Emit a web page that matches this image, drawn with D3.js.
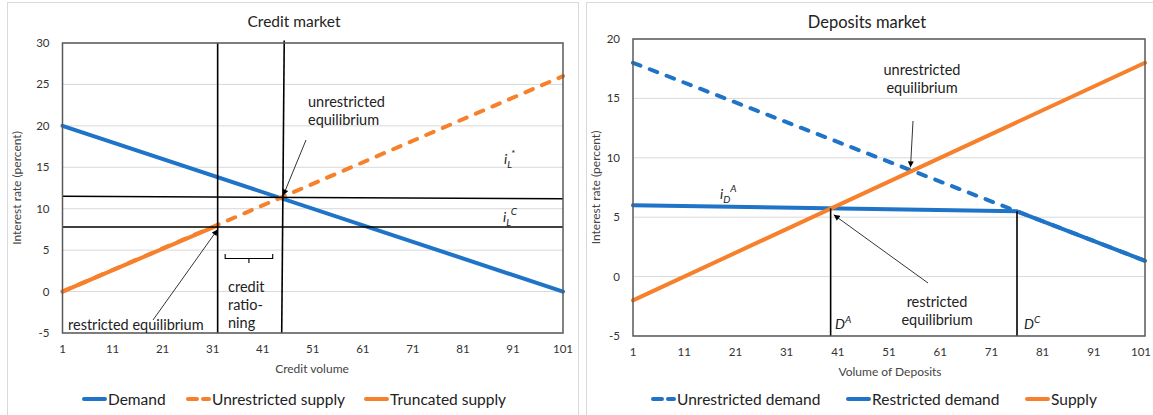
<!DOCTYPE html>
<html>
<head>
<meta charset="utf-8">
<script src="https://cdn.jsdelivr.net/npm/d3@7"></script>
<style>
  body { margin: 0; background: #fff; }
  svg { font-family: Lato, "Liberation Sans", sans-serif; }
</style>
</head>
<body>
<svg id="chart" width="1153" height="415"></svg>
<script>
// ---- credit market (left) ----
const creditTicks = [1, 11, 21, 31, 41, 51, 61, 71, 81, 91, 101]
const creditRateTicks = [-5, 0, 5, 10, 15, 20, 25, 30]
const creditVolume = [1, 101]
const creditDemand = [20, 0]
const creditUnrestrictedSupply = [0, 26]
const truncatedVolume = [1, 32]
const truncatedSupply = [0, 8]
// drawn reference lines, in data units [volume, rate]
const iLStarLine = [[1, 11.5], [101, 11.2]]
const iLCLine = [[1, 7.8], [101, 7.8]]
const creditRestrictedV = [[32, 30], [32, -5]]
const creditUnrestrictedV = [[45.3, 30.3], [44.8, -5]]

// ---- deposits market (right) ----
const depositTicks = [1, 11, 21, 31, 41, 51, 61, 71, 81, 91, 101]
const depositRateTicks = [-5, 0, 5, 10, 15, 20]
const depositVolume = [1, 101]
const unrestrictedDemand = [18, 1.33]
const restrictedVolume = [1, 76, 101]
const restrictedDemand = [6, 5.5, 1.33]
const depositSupply = [-2, 18]
const dALine = [[39.6, 5.74], [39.6, -5]]
const dCLine = [[76, 5.5], [76, -5]]

const blue = '#1f74c8'
const orange = '#f6802b'

const svg = d3.select('#chart')

// arrow head
svg.append('defs').append('marker')
    .attr('id', 'arrow')
    .attr('viewBox', '0 0 10 10')
    .attr('refX', 10).attr('refY', 5)
    .attr('markerWidth', 7).attr('markerHeight', 6)
    .attr('markerUnits', 'userSpaceOnUse')
    .attr('orient', 'auto')
    .append('path')
    .attr('d', 'M0,0 L10,5 L0,10 z')
    .attr('fill', '#000')

// panel frames
svg.append('rect').attr('x', 7.5).attr('y', 2.5).attr('width', 571).attr('height', 420)
    .attr('fill', 'none').attr('stroke', '#d9d9d9')
svg.append('rect').attr('x', 586.5).attr('y', 2.5).attr('width', 580).attr('height', 420)
    .attr('fill', 'none').attr('stroke', '#d9d9d9')

function panel(p) {
    let x = d3.scaleLinear().domain([1, 101]).range(p.xRange)
    let y = d3.scaleLinear().domain(d3.extent(p.yTicks)).range(p.yRange)
    let g = svg.append('g')

    // gridlines
    g.selectAll('.grid')
        .data(p.yTicks)
        .join('line')
        .attr('x1', p.xRange[0]).attr('x2', p.xRange[1])
        .attr('y1', d => y(d)).attr('y2', d => y(d))
        .attr('stroke', '#d9d9d9').attr('stroke-width', 1)

    // y tick labels
    g.selectAll('.ylab')
        .data(p.yTicks)
        .join('text')
        .attr('x', p.xRange[0] - 13)
        .attr('y', d => y(d) + 4)
        .attr('text-anchor', 'end')
        .style('font-size', '11.5px')
        .style('fill', '#333')
        .text(d => d)

    // x tick labels (last one kept inside the picture)
    g.selectAll('.xlab')
        .data(p.xTicks)
        .join('text')
        .attr('x', d => Math.min(x(d), p.maxLabelX))
        .attr('y', p.yRange[0] + 20)
        .attr('text-anchor', 'middle')
        .style('font-size', '11.5px')
        .style('fill', '#333')
        .text(d => d)

    // titles
    g.append('text')
        .attr('x', p.titleX).attr('y', p.titleY)
        .attr('text-anchor', 'middle')
        .style('font-size', p.titleSize)
        .style('fill', '#222')
        .text(p.title)
    g.append('text')
        .attr('x', p.xTitleX).attr('y', p.yRange[0] + 40)
        .attr('text-anchor', 'middle')
        .style('font-size', '12px')
        .style('fill', '#444')
        .text(p.xTitle)
    g.append('text')
        .attr('transform', `translate(${p.yTitleX},${(p.yRange[0] + p.yRange[1]) / 2}) rotate(-90)`)
        .attr('text-anchor', 'middle')
        .style('font-size', '12px')
        .style('fill', '#444')
        .text('Interest rate (percent)')

    // series
    let line = d3.line().x(d => x(d[0])).y(d => y(d[1]))
    p.series.forEach(s => {
        g.append('path')
            .datum(d3.zip(s.x, s.y))
            .attr('d', line)
            .attr('fill', 'none')
            .attr('stroke', s.colour)
            .attr('stroke-width', 4)
            .attr('stroke-linecap', 'round')
            .attr('stroke-linejoin', 'round')
            .attr('stroke-dasharray', s.dashed ? '8,10' : null)
    })

    // reference lines
    p.refLines.forEach(r => {
        g.append('path')
            .datum(r)
            .attr('d', line)
            .attr('stroke', '#000')
            .attr('stroke-width', 1.6)
    })

    // plot border
    g.append('rect')
        .attr('x', p.xRange[0]).attr('y', p.yRange[1])
        .attr('width', p.xRange[1] - p.xRange[0])
        .attr('height', p.yRange[0] - p.yRange[1])
        .attr('fill', 'none')
        .attr('stroke', '#595959')
        .attr('stroke-width', 1.5)

    // legend
    let lg = g.selectAll('.legend')
        .data(p.series.filter(s => s.legendX))
        .join('g')
        .attr('transform', s => `translate(${s.legendX},399)`)
    lg.append('line')
        .attr('x1', 2).attr('x2', 23)
        .attr('stroke', s => s.colour)
        .attr('stroke-width', 4)
        .attr('stroke-linecap', 'round')
        .attr('stroke-dasharray', s => s.dashed ? '9,6' : null)
    lg.append('text')
        .attr('x', 26).attr('y', 5.5)
        .style('font-size', '15.5px')
        .style('fill', '#222')
        .text(s => s.name)

    return { x, y, g }
}

const left = panel({
    xRange: [62.5, 563], yRange: [333, 43], maxLabelX: 1000,
    xTicks: creditTicks, yTicks: creditRateTicks,
    title: 'Credit market', titleX: 294, titleY: 27, titleSize: '15.5px',
    xTitle: 'Credit volume', xTitleX: 312, yTitleX: 21,
    series: [
        { name: 'Demand', x: creditVolume, y: creditDemand, colour: blue, legendX: 82 },
        { name: 'Unrestricted supply', x: creditVolume, y: creditUnrestrictedSupply, colour: orange, dashed: true, legendX: 186 },
        { name: 'Truncated supply', x: truncatedVolume, y: truncatedSupply, colour: orange, legendX: 364 }
    ],
    refLines: [iLStarLine, iLCLine, creditRestrictedV, creditUnrestrictedV]
})

const right = panel({
    xRange: [633, 1145], yRange: [336, 39], maxLabelX: 1141,
    xTicks: depositTicks, yTicks: depositRateTicks,
    title: 'Deposits market', titleX: 867, titleY: 28, titleSize: '16.5px',
    xTitle: 'Volume of Deposits', xTitleX: 890, yTitleX: 600,
    series: [
        { name: 'Unrestricted demand', x: depositVolume, y: unrestrictedDemand, colour: blue, dashed: true, legendX: 651 },
        { name: 'Restricted demand', x: restrictedVolume, y: restrictedDemand, colour: blue, legendX: 846 },
        { name: 'Supply', x: depositVolume, y: depositSupply, colour: orange, legendX: 1025 }
    ],
    refLines: [dALine, dCLine]
})

// ---- annotations ----
function label(g, x, y, lines, anchor) {
    let t = g.append('text')
        .attr('text-anchor', anchor || 'start')
        .style('font-size', '14.5px')
        .style('fill', '#222')
    lines.forEach((l, i) => {
        t.append('tspan').attr('x', x).attr('y', y + i * 18).text(l)
    })
}

function arrow(g, x1, y1, x2, y2) {
    g.append('line')
        .attr('x1', x1).attr('y1', y1).attr('x2', x2).attr('y2', y2)
        .attr('stroke', '#000').attr('stroke-width', 0.8)
        .attr('marker-end', 'url(#arrow)')
}

// symbol with italic base, subscript and superscript
function symbol(g, x, y, base, sub, sup) {
    let t = g.append('text')
        .attr('x', x).attr('y', y)
        .style('font-size', '14px')
        .style('font-style', 'italic')
        .style('fill', '#222')
    t.append('tspan').text(base)
    if (sub) {
        t.append('tspan').attr('dy', 4).style('font-size', '10px').text(sub)
        t.append('tspan').attr('dy', -11).style('font-size', '10px').text(sup)
    } else {
        t.append('tspan').attr('dy', -6).style('font-size', '10px').text(sup)
    }
}

// left chart
label(left.g, 308, 107, ['unrestricted', 'equilibrium'])
arrow(left.g, 306, 140, left.x(45.1), left.y(11.6))
label(left.g, 68, 330, ['restricted equilibrium'])
arrow(left.g, 153, 320, left.x(32), left.y(7.5))
label(left.g, 228, 292, ['credit', 'ratio-', 'ning'])
symbol(left.g, 504, 164, 'i', 'L', '*')
symbol(left.g, 503, 222, 'i', 'L', 'C')

// credit rationing bracket
left.g.append('path')
    .attr('d', `M${left.x(33.5)},254 V258.5 H${left.x(43)} V254 M${(left.x(33.5) + left.x(43)) / 2},258.5 V263`)
    .attr('fill', 'none')
    .attr('stroke', '#000')
    .attr('stroke-width', 1.1)

// right chart
label(right.g, 922, 75, ['unrestricted', 'equilibrium'], 'middle')
arrow(right.g, 913, 121, right.x(55.2), right.y(9.2))
label(right.g, 937, 307, ['restricted', 'equilibrium'], 'middle')
arrow(right.g, 928, 283, right.x(40.2), right.y(5.2))
symbol(right.g, 720, 199, 'i', 'D', 'A')
symbol(right.g, 835, 329, 'D', null, 'A')
symbol(right.g, 1024, 329, 'D', null, 'C')
</script>
</body>
</html>
